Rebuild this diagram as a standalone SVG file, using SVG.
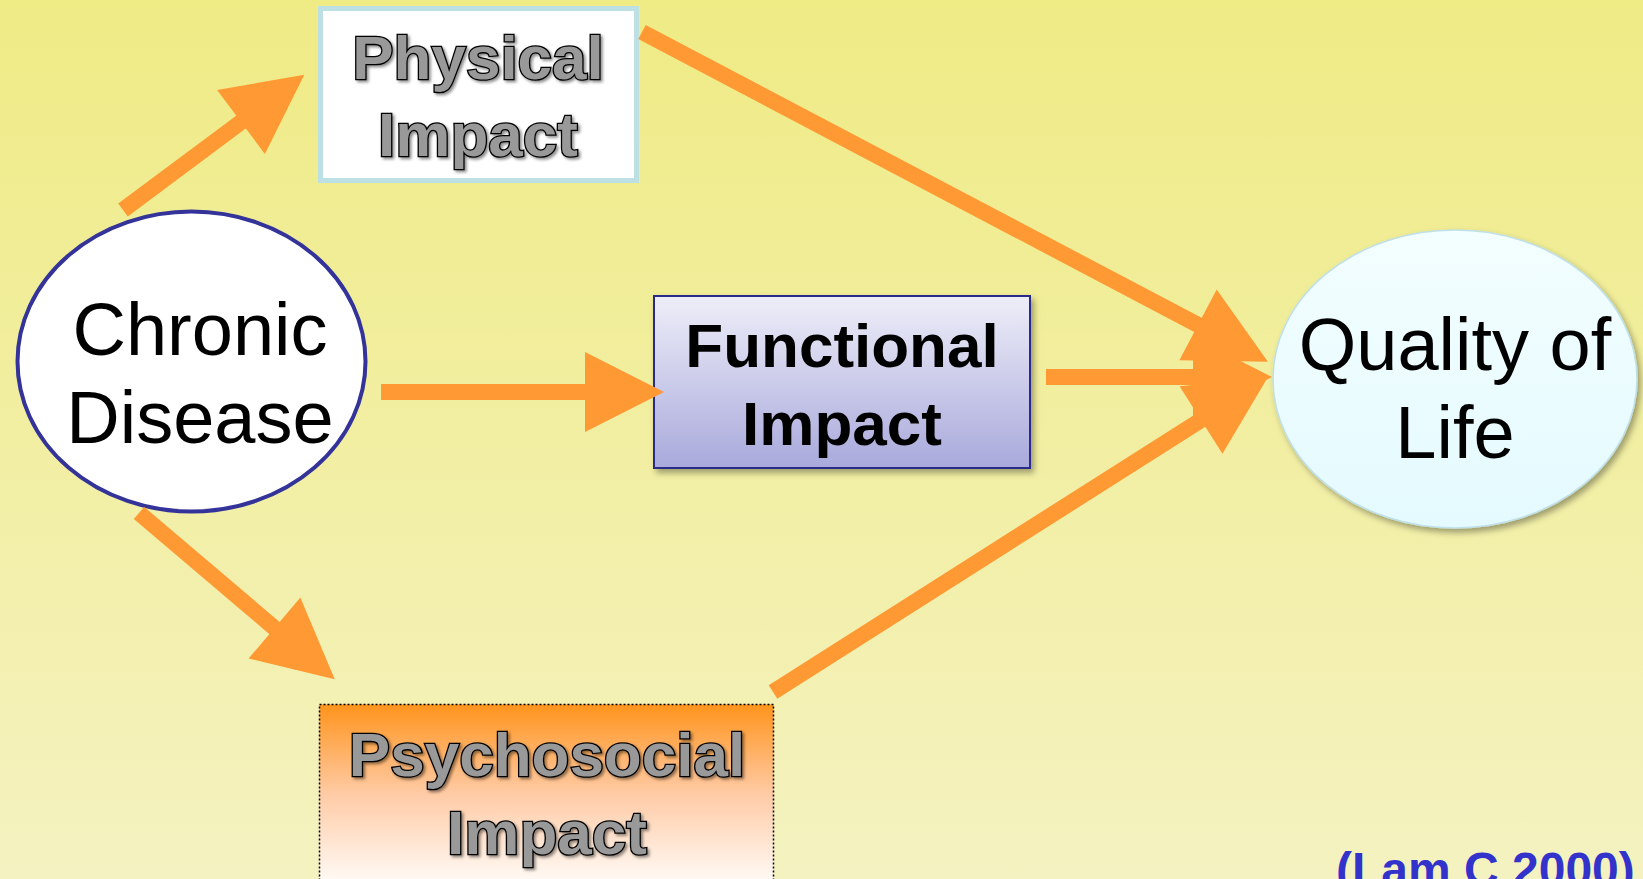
<svg xmlns="http://www.w3.org/2000/svg" width="1643" height="879" viewBox="0 0 1643 879">
<style>
.arrow{stroke:#ff9933;stroke-width:16;fill:none;marker-end:url(#head)}
.outl{font-family:"Liberation Sans",Arial,sans-serif;font-weight:bold;font-size:62px;fill:#999999;stroke:#000;stroke-width:2.6;paint-order:stroke;text-anchor:middle;filter:url(#tshadow)}
.plain{font-family:"Liberation Sans",Arial,sans-serif;font-size:74px;fill:#000;text-anchor:middle}
.bold{font-family:"Liberation Sans",Arial,sans-serif;font-weight:bold;font-size:62px;fill:#000;text-anchor:middle}
</style>
<defs>
<linearGradient id="bg" x1="0" y1="0" x2="0" y2="1">
<stop offset="0" stop-color="#efeb85"/>
<stop offset="1" stop-color="#f4f2c0"/>
</linearGradient>
<linearGradient id="func" x1="0" y1="0" x2="0" y2="1">
<stop offset="0" stop-color="#eeeef9"/>
<stop offset="1" stop-color="#a9a9dc"/>
</linearGradient>
<linearGradient id="psy" x1="0" y1="0" x2="0" y2="1">
<stop offset="0" stop-color="#ff941c"/>
<stop offset="0.5" stop-color="#ffcba6"/>
<stop offset="1" stop-color="#fffcf8"/>
</linearGradient>
<linearGradient id="qol" x1="0" y1="0" x2="0" y2="1">
<stop offset="0" stop-color="#f3feff"/>
<stop offset="1" stop-color="#e4faff"/>
</linearGradient>
<filter id="shadow" x="-10%" y="-10%" width="130%" height="130%">
<feDropShadow dx="3" dy="4" stdDeviation="3" flood-color="#000" flood-opacity="0.35"/>
</filter>
<filter id="tshadow" x="-10%" y="-20%" width="130%" height="150%">
<feDropShadow dx="2" dy="2" stdDeviation="1.5" flood-color="#000" flood-opacity="0.45"/>
</filter>
<marker id="head" markerUnits="userSpaceOnUse" markerWidth="80" markerHeight="80" refX="2" refY="40" orient="auto" overflow="visible">
<path d="M0,0 L79,40 L0,80 Z" fill="#ff9933"/>
</marker>
</defs>
<rect width="1643" height="879" fill="url(#bg)"/>

<g id="chronic-disease">
<ellipse cx="191.5" cy="361.5" rx="174" ry="150" fill="#fff" stroke="#333399" stroke-width="4"/>
<text class="plain" x="200" y="355">Chronic</text>
<text class="plain" x="200" y="443">Disease</text>
</g>

<g id="physical-impact">
<rect x="320.5" y="8.5" width="316" height="172" fill="#fff" stroke="#bce0e4" stroke-width="5"/>
<text class="outl" x="478" y="79">Physical</text>
<text class="outl" x="478" y="156">Impact</text>
</g>

<g id="functional-impact">
<rect x="654" y="296" width="376" height="172" fill="url(#func)" stroke="#2b2b8a" stroke-width="2" filter="url(#shadow)"/>
<text class="bold" x="842" y="367">Functional</text>
<text class="bold" x="842" y="445">Impact</text>
</g>

<g id="psychosocial-impact">
<rect x="319.5" y="704.5" width="454" height="180" fill="url(#psy)" stroke="#000" stroke-width="1.5" stroke-dasharray="2,2"/>
<text class="outl" x="547" y="776">Psychosocial</text>
<text class="outl" x="547" y="854">Impact</text>
</g>

<g id="quality-of-life">
<ellipse cx="1455" cy="379" rx="182" ry="149" fill="url(#qol)" stroke="#bfe0e8" stroke-width="1.5" filter="url(#shadow)"/>
<text class="plain" x="1455" y="370">Quality of</text>
<text class="plain" x="1455" y="458">Life</text>
</g>

<g id="connectors">
<line class="arrow" x1="123" y1="210" x2="242.6" y2="120.8"/>
<line class="arrow" x1="381" y1="392" x2="587" y2="392"/>
<line class="arrow" x1="139" y1="513" x2="276" y2="629.3"/>
<line class="arrow" x1="642" y1="32" x2="1199.8" y2="325.9"/>
<line class="arrow" x1="1046" y1="377" x2="1195" y2="377"/>
<line class="arrow" x1="773" y1="692" x2="1202.7" y2="418.9"/>
</g>

<text x="1336" y="886" font-family="'Liberation Sans',Arial,sans-serif" font-weight="bold" font-size="48" fill="#3333cc">(Lam C 2000)</text>
</svg>
